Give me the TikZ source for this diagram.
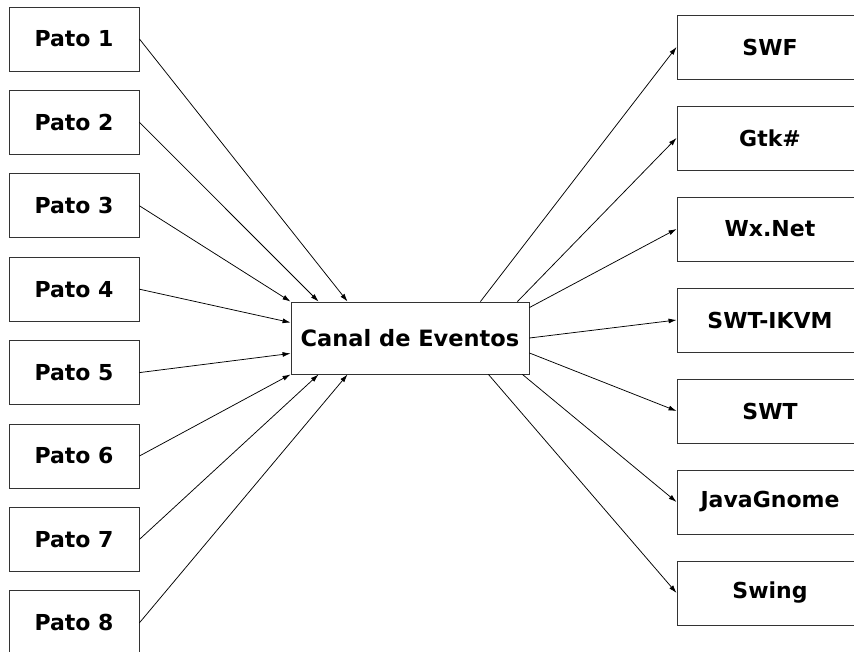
\documentclass[tikz,border=0pt]{standalone}
\usepackage{fontspec}
\setmainfont{DejaVu Sans}
\usepackage{tikz}
\usetikzlibrary{positioning, arrows.meta}

\begin{document}
\begin{tikzpicture}[x=1pt, y=-1pt,
        caja/.style={rectangle, draw=black!80, line width=0.9pt, fill=white, minimum width=130pt, minimum height=64pt, inner sep=0pt, font=\fontsize{22}{26}\selectfont\bfseries},
        cajader/.style={caja, minimum width=186pt},
        flecha/.style={-{Latex[length=8pt, width=5pt]}, line width=0.75pt}]
        \useasboundingbox (0,0) rectangle (854,652);
        % patos a la izquierda
        \node[caja](pato1) at (74,39) {Pato 1};
        \node[caja, below=18.5pt of pato1](pato2) {Pato 2};
        \node[caja, below=18.5pt of pato2](pato3) {Pato 3};
        \node[caja, below=18.5pt of pato3](pato4) {Pato 4};
        \node[caja, below=18.5pt of pato4](pato5) {Pato 5};
        \node[caja, below=18.5pt of pato5](pato6) {Pato 6};
        \node[caja, below=18.5pt of pato6](pato7) {Pato 7};
        \node[caja, below=18.5pt of pato7](pato8) {Pato 8};
        % canal central
        \node[caja, minimum width=238pt, minimum height=72pt, font=\fontsize{22.5}{26}\selectfont\bfseries](canal) at (410,338) {Canal de Eventos};
        % interfaces a la derecha
        \node[cajader](swf) at (770,47) {SWF};
        \node[cajader, below=26.1pt of swf](gtk) {Gtk\#};
        \node[cajader, below=26.1pt of gtk](wx) {Wx.Net};
        \node[cajader, below=26.1pt of wx](ikvm) {SWT-IKVM};
        \node[cajader, below=26.1pt of ikvm](swt) {SWT};
        \node[cajader, below=26.1pt of swt](gnome) {JavaGnome};
        \node[cajader, below=26.1pt of gnome](swing) {Swing};
        % entradas
        \draw[flecha] (pato1.east) -- ([xshift=57pt]canal.north west);
        \draw[flecha] (pato2.east) -- ([xshift=28pt]canal.north west);
        \draw[flecha] (pato3.east) -- (canal.north west);
        \draw[flecha] (pato4.east) -- ([yshift=-21pt]canal.north west);
        \draw[flecha] (pato5.east) -- ([yshift=21pt]canal.south west);
        \draw[flecha] (pato6.east) -- (canal.south west);
        \draw[flecha] (pato7.east) -- ([xshift=28pt]canal.south west);
        \draw[flecha] (pato8.east) -- ([xshift=57pt]canal.south west);
        % salidas
        \draw[flecha] ([xshift=-49pt]canal.north east) -- (swf.west);
        \draw[flecha] ([xshift=-12pt]canal.north east) -- (gtk.west);
        \draw[flecha] ([yshift=-6pt]canal.north east) -- (wx.west);
        \draw[flecha] (canal.east) -- (ikvm.west);
        \draw[flecha] ([yshift=-15pt]canal.east) -- (swt.west);
        \draw[flecha] ([xshift=-7pt]canal.south east) -- (gnome.west);
        \draw[flecha] ([xshift=-41pt]canal.south east) -- (swing.west);
    \end{tikzpicture}
\end{document}
